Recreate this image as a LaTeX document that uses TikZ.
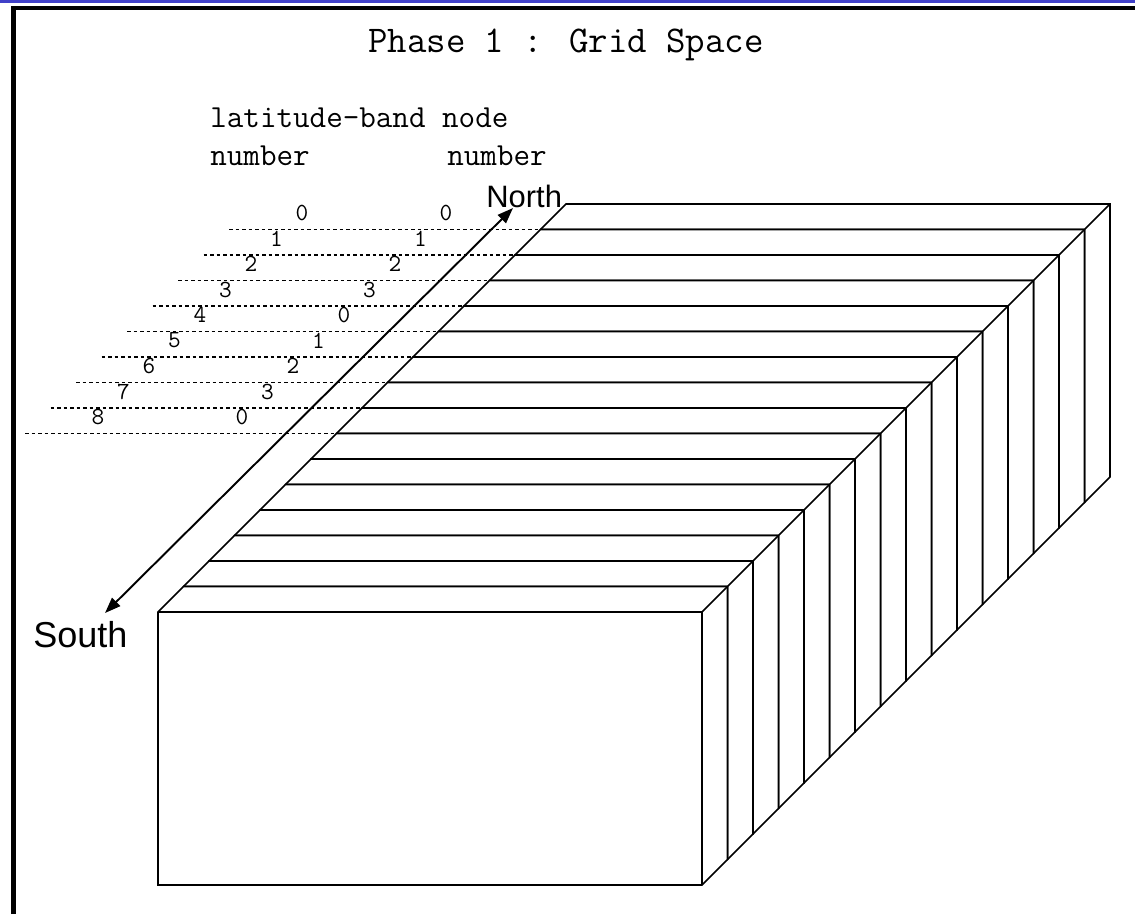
\documentclass[tikz,border=0pt]{standalone}
\usepackage{fontspec}
\usepackage{tikz}
\usetikzlibrary{arrows.meta}
\newfontfamily\labelfont{Liberation Sans}
\definecolor{barblue}{RGB}{64,64,200}
% one slab of the grid: front face, top strip and right strip
\newcommand{\slabat}[2]{%
  \draw[slab] (#1,#2) -- ++(25.5,-25.5) -- ++(544,0) -- ++(0,273)
    -- ++(-25.5,25.5) -- ++(-544,0) -- cycle;
  \draw[slab,fill=none] (#1,#2) -- ++(544,0) -- ++(25.5,-25.5)
    (#1,#2) ++(544,0) -- ++(0,273);}

\begin{document}
\begin{tikzpicture}[x=0.02cm,y=-0.02cm,
      slab/.style={draw,fill=white,line width=.9pt,line join=miter},
      bandline/.style={line width=.85pt,dash pattern=on 2.2pt off 1.5pt},
      banddigit/.style={font=\ttfamily\fontsize{14}{14}\selectfont,inner sep=0pt},
      heading/.style={font=\ttfamily\fontsize{21.5}{22}\selectfont,inner sep=0pt,anchor=base},
      bandtext/.style={font=\ttfamily\fontsize{18.3}{19}\selectfont,inner sep=0pt,anchor=base west},
      compass/.style={font=\labelfont,inner sep=0pt,anchor=base west},
      nsarrow/.style={line width=1.1pt,{Triangle[length=9pt,width=6.5pt]}-{Triangle[length=9pt,width=6.5pt]}}
    ]
    \useasboundingbox (0,0) rectangle (1135,914);
    \fill[barblue] (0,0) rectangle (1135,2.5);
    \draw[line width=2.3pt] (13.5,914) -- (13.5,8) -- (1135,8);

    \node[heading] (title) at (566,52) {Phase 1 : Grid Space};
    \node[bandtext] (bandhead) at (210,127) {latitude-band node};
    \node[bandtext] (bandnum) at (210,165) {number};
    \node[bandtext] (nodenum) at (447,165) {number};

    % band boundaries left of the grid
    \draw[bandline] (229,229.5) -- (540.5,229.5);
    \draw[bandline] (203.5,255) -- (515,255);
    \draw[bandline] (178,280.5) -- (489.5,280.5);
    \draw[bandline] (152.5,306) -- (464,306);
    \draw[bandline] (127,331.5) -- (438.5,331.5);
    \draw[bandline] (101.5,357) -- (413,357);
    \draw[bandline] (76,382.5) -- (387.5,382.5);
    \draw[bandline] (50.5,408) -- (362,408);
    \draw[bandline] (25,433.5) -- (336.5,433.5);

    \node[banddigit] (lat0) at (302,213) {0};
    \node[banddigit] (lat1) at (276.5,238.5) {1};
    \node[banddigit] (lat2) at (251,264) {2};
    \node[banddigit] (lat3) at (225.5,289.5) {3};
    \node[banddigit] (lat4) at (200,315) {4};
    \node[banddigit] (lat5) at (174.5,340.5) {5};
    \node[banddigit] (lat6) at (149,366) {6};
    \node[banddigit] (lat7) at (123.5,391.5) {7};
    \node[banddigit] (lat8) at (98,417) {8};

    \node[banddigit] (nd0) at (446,213) {0};
    \node[banddigit] (nd1) at (420.5,238.5) {1};
    \node[banddigit] (nd2) at (395,264) {2};
    \node[banddigit] (nd3) at (369.5,289.5) {3};
    \node[banddigit] (nd4) at (344,315) {0};
    \node[banddigit] (nd5) at (318.5,340.5) {1};
    \node[banddigit] (nd6) at (293,366) {2};
    \node[banddigit] (nd7) at (267.5,391.5) {3};
    \node[banddigit] (nd8) at (242,417) {0};

    % the grid, back slab first
    \slabat{540.5}{229.5}
    \slabat{515}{255}
    \slabat{489.5}{280.5}
    \slabat{464}{306}
    \slabat{438.5}{331.5}
    \slabat{413}{357}
    \slabat{387.5}{382.5}
    \slabat{362}{408}
    \slabat{336.5}{433.5}
    \slabat{311}{459}
    \slabat{285.5}{484.5}
    \slabat{260}{510}
    \slabat{234.5}{535.5}
    \slabat{209}{561}
    \slabat{183.5}{586.5}
    \slabat{158}{612}

    \node[compass,font=\labelfont\fontsize{17.6}{18}\selectfont] (north) at (486,207) {North};
    \node[compass,font=\labelfont\fontsize{20.5}{21}\selectfont] (south) at (33,647) {South};
    \coordinate (northend) at (513,208);
    \coordinate (southend) at (105,613);
    \draw[nsarrow] (southend) -- (northend);
  \end{tikzpicture}
\end{document}
